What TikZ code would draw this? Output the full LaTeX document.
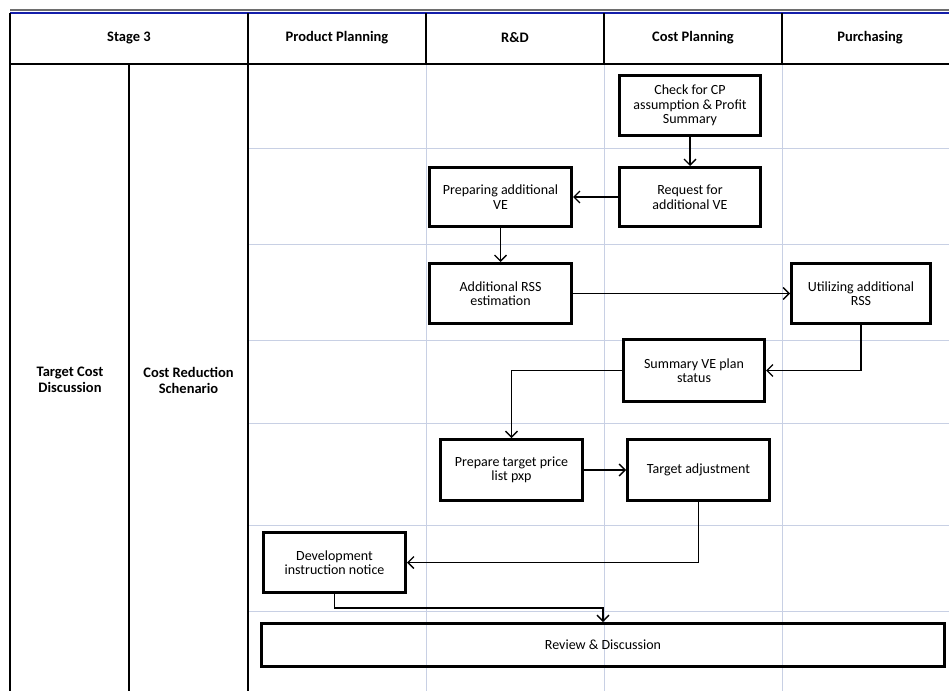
\documentclass[tikz,border=0pt]{standalone}
\usepackage{fontspec}
\setmainfont{Carlito}
\usetikzlibrary{arrows.meta}
\definecolor{rulegray}{RGB}{110,110,110}
\definecolor{ruleblue}{RGB}{20,30,170}
\definecolor{gridblue}{RGB}{200,208,228}
\begin{document}
\begin{tikzpicture}[x=1pt,y=-1pt,
  tableline/.style={line width=2pt, black},
  gridline/.style={line width=0.8pt, gridblue},
  head/.style={font=\bfseries\fontsize{14.5}{16}\selectfont, align=center, inner sep=0pt},
  stepbox/.style={draw, line width=3pt, align=center, inner sep=0pt,
    minimum width=142pt, minimum height=60pt,
    font=\fontsize{14}{14.5}\selectfont},
  flow/.style={line width=1.3pt, -{Straight Barb[length=6pt,width=12pt,line width=1.3pt]}}
]
\useasboundingbox (0,0) rectangle (949,691);

% light grid of the lane area
\foreach \gy in {148,244,340,423,525,611}
  \draw[gridline] (248,\gy) -- (949,\gy);
\foreach \gx in {426,604,782}
  \draw[gridline] (\gx,64) -- (\gx,691);

% top rules
\draw[line width=1.5pt, rulegray] (10,10) -- (949,10);
\draw[line width=2pt, ruleblue] (10,13) -- (949,13);

% table frame
\draw[tableline] (10,13) -- (10,691);
\draw[tableline] (10,64) -- (949,64);
\draw[tableline] (248,13) -- (248,691);
\draw[tableline] (129,64) -- (129,691);
\foreach \hx in {426,604,782}
  \draw[tableline] (\hx,13) -- (\hx,64);

% column headings
\node[head] (hstage) at (129,38) {Stage 3};
\node[head] (hpp) at (337,38) {Product Planning};
\node[head] (hrd) at (515,38) {R\&D};
\node[head] (hcp) at (693,38) {Cost Planning};
\node[head] (hpur) at (870,38) {Purchasing};

% row headings
\node[head] (tcd) at (70,380) {Target Cost\\Discussion};
\node[head] (crs) at (188.5,380) {Cost Reduction\\Schenario};

% process steps
\node[stepbox, minimum width=141pt] (check) at (690,105.5) {Check for CP\\assumption \& Profit\\Summary};
\node[stepbox, minimum width=141pt, minimum height=59pt] (request) at (690,197) {Request for\\additional VE};
\node[stepbox, minimum height=59pt] (prep) at (500.5,197) {Preparing additional\\VE};
\node[stepbox] (addrss) at (500.5,293.5) {Additional RSS\\estimation};
\node[stepbox, minimum width=139pt] (util) at (861,293.5) {Utilizing additional\\RSS};
\node[stepbox, minimum width=141pt, minimum height=62pt] (summ) at (694,370.5) {Summary VE plan\\status};
\node[stepbox, minimum height=61pt] (price) at (511.5,470) {Prepare target price\\list pxp};
\node[stepbox, minimum height=61pt] (adjust) at (698.5,470) {Target adjustment};
\node[stepbox] (dev) at (334.5,562.5) {Development\\instruction notice};
\node[stepbox, minimum width=683pt, minimum height=43pt] (review) at (603,645) {Review \& Discussion};

% flow
\draw[flow] (check.south) -- (request.north);
\draw[flow] (request.west) -- (prep.east);
\draw[flow] (prep.south) -- (addrss.north);
\draw[flow] (addrss.east) -- (util.west);
\draw[flow] (util.south) |- (summ.east);
\draw[flow] (summ.west) -| (price.north);
\draw[flow] (price.east) -- (adjust.west);
\draw[flow] (adjust.south) |- (dev.east);
\draw[flow] (dev.south) -- ++(0,14) -| (review.north);
\end{tikzpicture}
\end{document}
